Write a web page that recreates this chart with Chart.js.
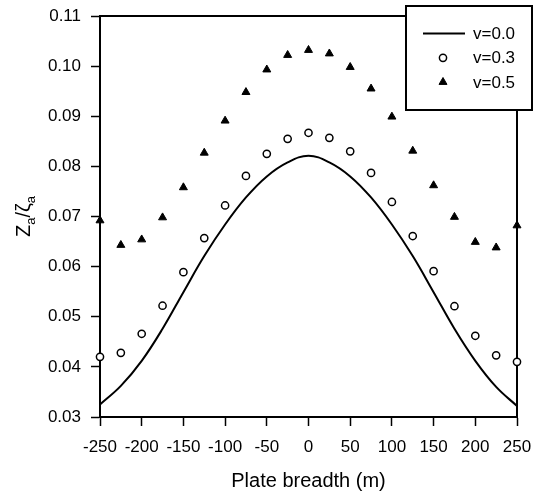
<!DOCTYPE html>
<html>
<head>
<meta charset="utf-8">
<script src="https://cdn.jsdelivr.net/npm/chart.js@4.4.0/dist/chart.umd.min.js"></script>
<style>
  html, body { margin: 0; padding: 0; background: #fff; }
</style>
</head>
<body>
<canvas id="chart" width="536" height="493"></canvas>
<script>
// plate breadth positions (m)
const breadth = [-250, -225, -200, -175, -150, -125, -100, -75, -50, -25, 0,
                 25, 50, 75, 100, 125, 150, 175, 200, 225, 250];
// Za / zeta_a for each poisson ratio
const v00 = [0.0325, 0.0362, 0.0412, 0.0476, 0.0549, 0.0621, 0.0684, 0.0738, 0.0780, 0.0808, 0.0821,
             0.0808, 0.0780, 0.0738, 0.0684, 0.0621, 0.0549, 0.0476, 0.0412, 0.0360, 0.0322];
const v03 = [0.0420, 0.0428, 0.0466, 0.0522, 0.0589, 0.0657, 0.0722, 0.0781, 0.0825, 0.0855, 0.0867,
             0.0857, 0.0830, 0.0787, 0.0729, 0.0661, 0.0591, 0.0521, 0.0462, 0.0423, 0.0410];
const v05 = [0.0692, 0.0643, 0.0654, 0.0698, 0.0758, 0.0827, 0.0891, 0.0948, 0.0993, 0.1022, 0.1032,
             0.1025, 0.0998, 0.0955, 0.0899, 0.0831, 0.0762, 0.0699, 0.0649, 0.0638, 0.0682];
const seriesLabels = ['v=0.0', 'v=0.3', 'v=0.5'];

const FONT = '"Liberation Sans", Arial, Helvetica, sans-serif';

const toPoints = ys => breadth.map((x, i) => ({ x: x, y: ys[i] }));

// top + right edge of the plot frame
const frame = {
  id: 'frame',
  beforeDatasetsDraw(chart) {
    const { ctx, chartArea: a } = chart;
    ctx.save();
    ctx.strokeStyle = '#000';
    ctx.lineWidth = 2;
    ctx.beginPath();
    ctx.moveTo(a.left, a.top);
    ctx.lineTo(a.right, a.top);
    ctx.lineTo(a.right, a.bottom);
    ctx.stroke();
    ctx.restore();
  }
};

// rotated y title with subscripts
const yTitle = {
  id: 'yTitle',
  afterDraw(chart) {
    const ctx = chart.ctx;
    const a = chart.chartArea;
    const big = '20px ' + FONT, small = '13px ' + FONT;
    const parts = [['Z', big, 0], ['a', small, 5], ['/', big, 0], ['\u03B6', big, 0], ['a', small, 5]];
    ctx.save();
    ctx.translate(24, (a.top + a.bottom) / 2);
    ctx.rotate(-Math.PI / 2);
    ctx.fillStyle = '#000';
    ctx.textBaseline = 'alphabetic';
    let total = 0;
    parts.forEach(p => { ctx.font = p[1]; total += ctx.measureText(p[0]).width; });
    let x = -total / 2;
    parts.forEach(p => {
      ctx.font = p[1];
      ctx.fillText(p[0], x, 6 + p[2]);
      x += ctx.measureText(p[0]).width;
    });
    ctx.restore();
  }
};

// boxed legend sitting over the top right corner
const legendBox = {
  id: 'legendBox',
  afterDraw(chart) {
    const ctx = chart.ctx;
    const bx = 406, by = 6, bw = 126, bh = 104;
    ctx.save();
    ctx.fillStyle = '#fff';
    ctx.fillRect(bx, by, bw, bh);
    ctx.strokeStyle = '#000';
    ctx.lineWidth = 2;
    ctx.strokeRect(bx, by, bw, bh);
    chart.data.datasets.forEach((ds, i) => {
      const y = 33.5 + i * 24.3;
      ctx.strokeStyle = '#000';
      if (ds.showLine) {
        ctx.lineWidth = ds.borderWidth;
        ctx.beginPath();
        ctx.moveTo(423, y);
        ctx.lineTo(465, y);
        ctx.stroke();
      } else {
        ctx.fillStyle = ds.pointBackgroundColor;
        ctx.lineWidth = ds.pointBorderWidth;
        Chart.helpers.drawPoint(ctx, {
          pointStyle: ds.pointStyle, radius: ds.pointRadius, rotation: 0, borderWidth: ds.pointBorderWidth
        }, 443, y);
      }
      ctx.fillStyle = '#000';
      ctx.font = '17px ' + FONT;
      ctx.textBaseline = 'middle';
      ctx.fillText(ds.label, 473, y + 1);
    });
    ctx.restore();
  }
};

new Chart(document.getElementById('chart'), {
  type: 'scatter',
  data: {
    datasets: [
      {
        label: seriesLabels[0],
        data: toPoints(v00),
        showLine: true,
        borderColor: '#000',
        borderWidth: 2,
        pointRadius: 0,
        tension: 0.4,
        fill: false,
        clip: false
      },
      {
        label: seriesLabels[1],
        data: toPoints(v03),
        showLine: false,
        pointStyle: 'circle',
        pointRadius: 3.6,
        pointBorderWidth: 1.5,
        pointBackgroundColor: '#fff',
        pointBorderColor: '#000',
        clip: false
      },
      {
        label: seriesLabels[2],
        data: toPoints(v05),
        showLine: false,
        pointStyle: 'triangle',
        pointRadius: 4.6,
        pointBorderWidth: 1,
        pointBackgroundColor: '#000',
        pointBorderColor: '#000',
        clip: false
      }
    ]
  },
  options: {
    responsive: false,
    animation: false,
    layout: { padding: { top: 16, right: 19, left: 0, bottom: 0 } },
    plugins: {
      legend: { display: false },
      tooltip: { enabled: false }
    },
    scales: {
      x: {
        type: 'linear',
        min: -250,
        max: 250,
        ticks: { stepSize: 50, color: '#000', font: { size: 17, family: FONT }, padding: 11, maxRotation: 0, autoSkip: false },
        grid: { drawOnChartArea: false, drawTicks: true, tickLength: 9, tickColor: '#000', tickWidth: 1.5 },
        border: { display: true, color: '#000', width: 2 },
        title: { display: true, text: 'Plate breadth (m)', color: '#000', font: { size: 20, family: FONT }, padding: { top: 0, bottom: 0 } },
        afterFit(scale) {
          scale.height = 76;
          scale.paddingLeft = 0;
          scale.paddingRight = 0;
        }
      },
      y: {
        min: 0.03,
        max: 0.11,
        ticks: {
          stepSize: 0.01,
          color: '#000',
          font: { size: 17, family: FONT },
          padding: 10,
          callback: v => v.toFixed(2)
        },
        grid: { drawOnChartArea: false, drawTicks: true, tickLength: 9, tickColor: '#000', tickWidth: 1.5 },
        border: { display: true, color: '#000', width: 2 },
        afterFit(scale) {
          scale.width = 100;
          scale.paddingTop = 0;
          scale.paddingBottom = 0;
        }
      }
    }
  },
  plugins: [frame, yTitle, legendBox]
});
</script>
</body>
</html>
